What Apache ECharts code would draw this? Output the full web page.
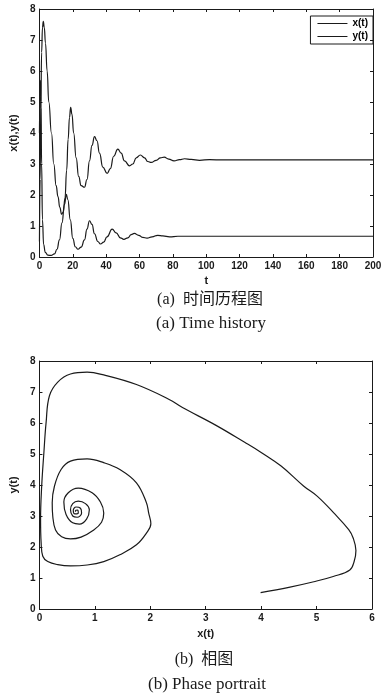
<!DOCTYPE html>
<html>
<head>
<meta charset="utf-8">
<script src="https://cdn.jsdelivr.net/npm/echarts@6/dist/echarts.min.js"></script>
<style>
html, body { margin: 0; padding: 0; background: #fff; }
#main { width: 388px; height: 698px; }
</style>
</head>
<body>
<div id="main"></div>
<script>
// time history
var tX = [0, 0.3, 0.6, 0.9, 1.3, 1.8, 2.5, 3.5, 5, 7, 9, 10.5, 12, 13.5, 15, 16.1, 17, 18.5, 20, 21.5, 23.1, 25, 27, 28.5, 30, 31.5, 33, 35, 36.6, 38.5, 40.5, 43.6, 46, 48.5, 50.6, 53, 55, 56.9, 59.5, 62, 64.5, 67.5, 70.9, 74, 78, 83, 90, 110, 150, 200];
var xOfT = [4.0, 5.2, 5.7, 5.0, 3.0, 1.2, 0.4, 0.15, 0.06, 0.05, 0.1, 0.25, 0.55, 1.1, 1.7, 2.02, 1.85, 1.2, 0.6, 0.33, 0.25, 0.32, 0.55, 0.9, 1.17, 1.05, 0.75, 0.5, 0.42, 0.48, 0.65, 0.9, 0.78, 0.62, 0.57, 0.62, 0.72, 0.76, 0.7, 0.63, 0.61, 0.65, 0.7, 0.68, 0.65, 0.67, 0.67, 0.67, 0.67, 0.67];
var tY = [0, 0.4, 0.8, 1.3, 1.8, 2.3, 2.9, 3.6, 4.6, 5.6, 7.2, 8.6, 10, 11.1, 12.2, 13.3, 14.3, 15.3, 16.3, 17.2, 18, 18.7, 19.5, 20.5, 22, 23.5, 25, 27, 28.5, 30, 31.5, 33, 34.5, 36, 38, 40.6, 42.5, 44.5, 47, 49, 51, 54, 56, 58, 60.5, 63, 65, 67, 70, 72.5, 74.8, 77.5, 80.7, 84, 87, 91, 96, 102, 110, 130, 160, 200];
var yOfT = [0.5, 2.5, 4.8, 6.6, 7.4, 7.6, 7.4, 6.9, 6.0, 5.0, 4.0, 3.0, 2.3, 1.95, 1.6, 1.38, 1.45, 1.9, 2.8, 3.8, 4.5, 4.83, 4.6, 4.0, 3.2, 2.6, 2.3, 2.25, 2.5, 3.1, 3.6, 3.88, 3.75, 3.35, 2.9, 2.7, 2.85, 3.25, 3.48, 3.35, 3.1, 2.94, 3.0, 3.2, 3.29, 3.2, 3.08, 3.05, 3.12, 3.2, 3.22, 3.16, 3.1, 3.14, 3.17, 3.15, 3.12, 3.14, 3.13, 3.13, 3.13, 3.13];

// phase portrait
var phaseX = [3.99, 4.5, 4.95, 5.3, 5.6, 5.68, 5.71, 5.66, 5.58, 5.31, 5.01, 4.77, 4.36, 4.0, 3.71, 3.17, 2.58, 2.34, 1.75, 1.16, 0.86, 0.56, 0.33, 0.18, 0.12, 0.08, 0.04, 0.02, 0.03, 0.06, 0.15, 0.33, 0.56, 0.86, 1.16, 1.45, 1.75, 1.93, 2.01, 1.97, 1.93, 1.75, 1.45, 1.16, 0.86, 0.56, 0.39, 0.27, 0.23, 0.24, 0.29, 0.4, 0.56, 0.75, 0.98, 1.12, 1.16, 1.1, 0.95, 0.7, 0.52, 0.44, 0.48, 0.6, 0.72, 0.85, 0.9, 0.83, 0.7, 0.6, 0.56, 0.6, 0.68, 0.76, 0.74, 0.66, 0.61, 0.64, 0.7, 0.69, 0.65, 0.65];
var phaseY = [0.53, 0.7, 0.88, 1.05, 1.26, 1.55, 1.89, 2.29, 2.56, 3.1, 3.64, 3.96, 4.61, 5.05, 5.37, 5.94, 6.5, 6.76, 7.24, 7.55, 7.64, 7.58, 7.32, 6.88, 6.02, 5.05, 3.96, 2.9, 2.14, 1.7, 1.53, 1.43, 1.39, 1.42, 1.53, 1.75, 2.07, 2.45, 2.75, 3.1, 3.43, 4.07, 4.5, 4.72, 4.84, 4.77, 4.5, 3.96, 3.43, 2.99, 2.55, 2.33, 2.26, 2.32, 2.55, 2.8, 3.1, 3.45, 3.75, 3.9, 3.75, 3.45, 3.05, 2.78, 2.74, 2.9, 3.2, 3.4, 3.48, 3.4, 3.2, 3.0, 2.96, 3.1, 3.25, 3.29, 3.18, 3.07, 3.1, 3.19, 3.18, 3.14];

function pairs(a, b) {
    var out = [];
    for (var i = 0; i < a.length; i++) out.push([a[i], b[i]]);
    return out;
}

var ink = '#1a1a1a';
var tickFont = { fontFamily: 'Liberation Sans', fontWeight: 'bold', fontSize: 10, color: ink };
var nameFont = { fontFamily: 'Liberation Sans', fontWeight: 'bold', fontSize: 11, color: ink };

function axis(gridIndex, pos, min, max, step, opts) {
    var a = {
        type: 'value', gridIndex: gridIndex, position: pos,
        min: min, max: max, interval: step,
        axisLine: { show: true, onZero: false, lineStyle: { color: ink, width: 1 } },
        axisTick: { show: true, inside: true, length: 3, lineStyle: { color: ink } },
        axisLabel: Object.assign({ show: opts.label, margin: 4 }, tickFont),
        splitLine: { show: false }
    };
    if (opts.name) {
        a.name = opts.name;
        a.nameLocation = 'middle';
        a.nameGap = opts.gap;
        a.nameTextStyle = nameFont;
    }
    return a;
}

var myChart = echarts.init(document.getElementById('main'));
var option = {
    animation: false,
    backgroundColor: '#fff',
    title: [
        { text: '(a)  时间历程图', left: 205, top: 287, textAlign: 'center',
          textStyle: { fontFamily: 'Liberation Serif, Noto Sans CJK SC', fontWeight: 'normal', fontSize: 16, color: ink } },
        { text: '(a) Time history', left: 206, top: 310, textAlign: 'center',
          textStyle: { fontFamily: 'Liberation Serif', fontWeight: 'normal', fontSize: 17, color: ink } },
        { text: '(b)  相图', left: 199, top: 647, textAlign: 'center',
          textStyle: { fontFamily: 'Liberation Serif, Noto Sans CJK SC', fontWeight: 'normal', fontSize: 16, color: ink } },
        { text: '(b) Phase portrait', left: 202, top: 671, textAlign: 'center',
          textStyle: { fontFamily: 'Liberation Serif', fontWeight: 'normal', fontSize: 17, color: ink } }
    ],
    legend: {
        data: ['x(t)', 'y(t)'],
        orient: 'vertical',
        icon: 'rect',
        right: 15, top: 16,
        itemWidth: 30, itemHeight: 1, itemGap: 2,
        padding: [2, 5, 2, 7],
        borderColor: ink, borderWidth: 1,
        textStyle: { fontFamily: 'Liberation Sans', fontWeight: 'bold', fontSize: 10, lineHeight: 11, color: '#000' }
    },
    grid: [
        { left: 38, top: 9, width: 335, height: 248 },
        { left: 35, top: 361, width: 337, height: 248 }
    ],
    xAxis: [
        axis(0, 'bottom', 0, 200, 20, { label: true, name: 't', gap: 18 }),
        axis(0, 'top', 0, 200, 20, { label: false }),
        axis(1, 'bottom', 0, 6, 1, { label: true, name: 'x(t)', gap: 19 }),
        axis(1, 'top', 0, 6, 1, { label: false })
    ],
    yAxis: [
        axis(0, 'left', 0, 8, 1, { label: true, name: 'x(t),y(t)', gap: 12 }),
        axis(0, 'right', 0, 8, 1, { label: false }),
        axis(1, 'left', 0, 8, 1, { label: true, name: 'y(t)', gap: 13 }),
        axis(1, 'right', 0, 8, 1, { label: false })
    ],
    series: [
        { name: 'x(t)', type: 'line', xAxisIndex: 0, yAxisIndex: 0, data: pairs(tX, xOfT),
          symbol: 'none', smooth: 0.5, smoothMonotone: 'x', lineStyle: { color: ink, width: 1.2 }, itemStyle: { color: ink } },
        { name: 'y(t)', type: 'line', xAxisIndex: 0, yAxisIndex: 0, data: pairs(tY, yOfT),
          symbol: 'none', smooth: 0.5, smoothMonotone: 'x', lineStyle: { color: ink, width: 1.2 }, itemStyle: { color: ink } },
        { name: 'phase', type: 'line', xAxisIndex: 2, yAxisIndex: 2, data: pairs(phaseX, phaseY),
          symbol: 'none', smooth: 0.4, lineStyle: { color: ink, width: 1.2 } }
    ]
};
myChart.setOption(option);
</script>
</body>
</html>
